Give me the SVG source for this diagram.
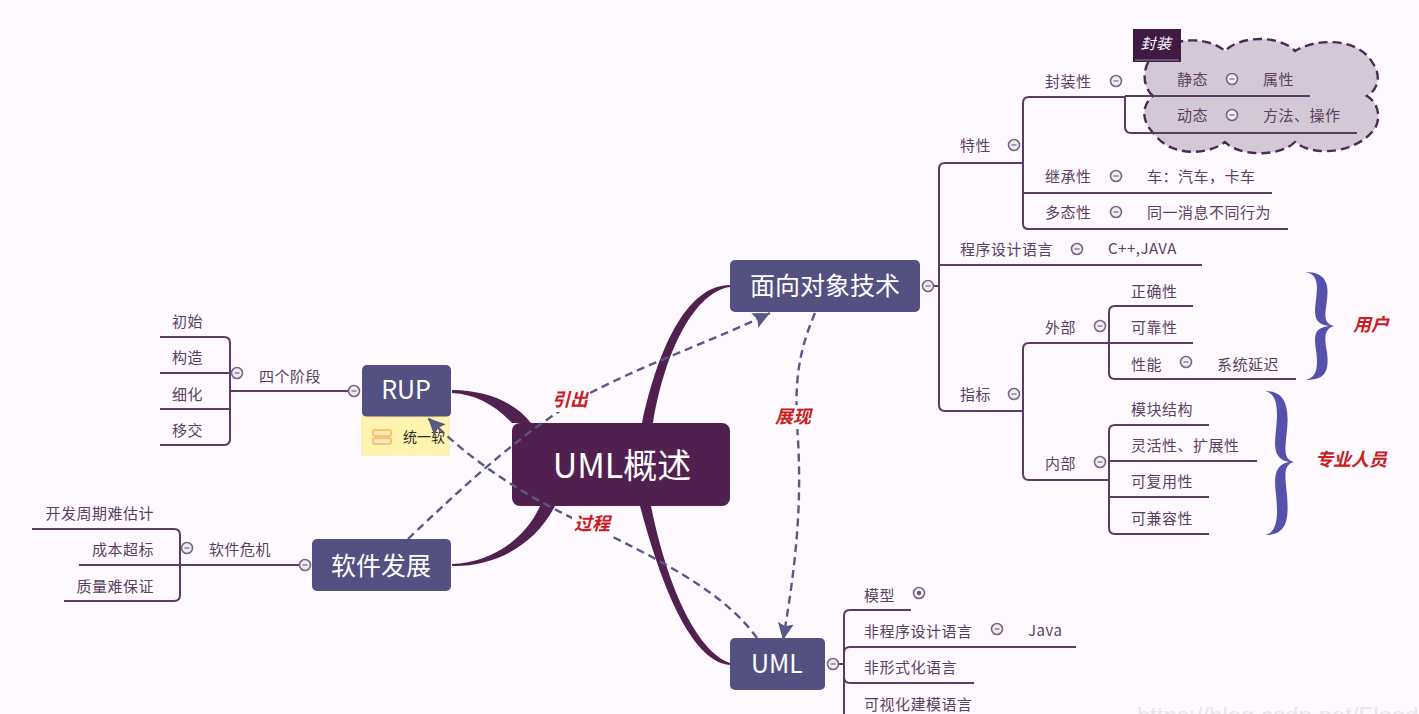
<svg xmlns="http://www.w3.org/2000/svg" width="1419" height="714" viewBox="0 0 1419 714">
<style>
text{font-family:"Noto Sans CJK SC","Noto Sans",sans-serif;fill:#5a3f60}
.t{font-size:15px;letter-spacing:.5px}
.e{text-anchor:end}
.m{fill:#fff;font-size:25px;text-anchor:middle}
.r{fill:#c8201e;font-size:18px;font-weight:700;font-style:italic;text-anchor:middle}
.l{fill:none;stroke:#5c3a64;stroke-width:2;stroke-linejoin:round}
.c{fill:#f0ecf4;stroke:#7a6480;stroke-width:1.6}
.d{fill:none;stroke:#7a6480;stroke-width:1.2}
.b{fill:#52204f}
.n{fill:#545082}
.a{fill:none;stroke:#585a85;stroke-width:2.4;stroke-dasharray:8 5}
.bg{fill:#fdf9ff}
</style>
<defs>
<marker id="arr" markerUnits="userSpaceOnUse" markerWidth="20" markerHeight="18" refX="17" refY="8" orient="auto"><path d="M0,0L17,8L0,16L3,8Z" fill="#585a85"/></marker>
<g id="col"><circle r="5.5" class="c"/><path d="M-2.5,0H2.5" class="d"/></g>
</defs>
<rect width="1419" height="714" class="bg"/>
<g id="connectors">
<path class="b" d="M452,390C485,390 515,402 531,423L512,423C495,405 475,394 452,393Z"/>
<path class="b" d="M452,564C490,563 525,540 540,506L555,506C535,545 495,567 452,566Z"/>
<path class="b" d="M730,285C690,285 660,340 642,423L653,423C665,350 695,292 730,287Z"/>
<path class="b" d="M730,665C695,662 665,600 640,506L651,506C668,590 698,652 730,663Z"/>
<path class="l" d="M932,286H939"/>
<path class="l" d="M1023,163H945Q939,163 939,169V405Q939,411 945,411H1023"/>
<path class="l" d="M939,265H1202"/>
<path class="l" d="M1125,97H1029Q1023,97 1023,103V224Q1023,229 1029,229H1288M1023,193H1272"/>
<path class="l" d="M1109,343H1029Q1023,343 1023,349V474Q1023,480 1029,480H1109"/>
<path class="l" d="M1193,306H1115Q1109,306 1109,312V373Q1109,379 1115,379H1296M1109,343H1193"/>
<path class="l" d="M1209,425H1115Q1109,425 1109,431V528Q1109,534 1115,534H1209M1109,461H1257M1109,497H1209"/>
<path class="l" d="M160,337H224Q230,337 230,343V439Q230,445 224,445H160M160,373H230M160,409H230M230,391H350"/>
<path class="l" d="M32,529H174Q180,529 180,535V595Q180,601 174,601H64M79,565H300"/>
<path class="l" d="M829,664H844M911,610H850Q844,610 844,616V714M1076,647H850Q844,647 844,653V677Q844,683 850,683H974"/>
</g>
<g id="cloud"><path d="M1153,96C1140,85 1142,60 1160,50C1180,36 1210,38 1225,51C1240,35 1280,35 1295,51C1320,36 1360,40 1372,62C1382,75 1378,90 1367,96C1382,105 1380,125 1372,132C1355,152 1315,158 1295,142C1280,157 1240,157 1225,142C1205,157 1170,155 1155,135C1140,120 1142,105 1153,96Z" fill="#d3c8d5" stroke="#4b2a55" stroke-width="2.4" stroke-dasharray="9 5"/>
<path class="l" d="M1125,96H1310M1125,97V127Q1125,133 1131,133H1357"/></g>
<g id="n-cloud-title"><rect x="1133" y="29" width="48" height="33" fill="#3f1a42"/><path d="M1135,60H1179" stroke="#9a84a0"/><text x="1156" y="49" class="t" style="fill:#fff;font-style:italic;text-anchor:middle">封装</text></g>
<g id="n-root"><rect x="512" y="423" width="218" height="83" rx="8" class="b"/><text x="622" y="478" class="m" style="font-size:34px">UML概述</text></g>
<g id="n-oop"><rect x="730" y="260" width="190" height="52" rx="5" class="n"/><text x="825" y="295" class="m">面向对象技术</text></g>
<g id="n-rup"><rect x="362" y="365" width="89" height="52" rx="5" class="n"/><text x="406" y="399" class="m">RUP</text></g>
<g id="n-rup-note"><rect x="362" y="417" width="87" height="38" fill="#fff3b0" stroke="#fbe8a0"/><rect x="373" y="430" width="18" height="6" rx="2" fill="#fde3c0" stroke="#f6c768" stroke-width="2"/><rect x="373" y="438" width="18" height="6" rx="2" fill="#fde3c0" stroke="#f6c768" stroke-width="2"/><text x="403" y="442" style="font-size:14px;fill:#2c2c2c">统一软</text></g>
<g id="n-soft"><rect x="312" y="539" width="139" height="52" rx="5" class="n"/><text x="381" y="575" class="m">软件发展</text></g>
<g id="n-uml"><rect x="730" y="638" width="95" height="52" rx="5" class="n"/><text x="777" y="673" class="m">UML</text></g>
<g id="relations">
<path class="a" d="M408,539C470,480 530,425 590,393C650,362 715,340 770,313" marker-end="url(#arr)"/>
<path class="a" d="M757,638C730,600 680,570 613,537C540,505 480,470 428,418" marker-end="url(#arr)"/>
<path class="a" d="M815,313C795,360 795,390 798,440C802,510 795,570 783,640" marker-end="url(#arr)"/>
</g>
<g id="n-oop-children">
<use href="#col" x="928" y="286"/>
<text x="960" y="151" class="t">特性</text><use href="#col" x="1014" y="145"/>
<text x="1045" y="87" class="t">封装性</text><use href="#col" x="1116" y="81"/>
<text x="1177" y="85" class="t">静态</text><use href="#col" x="1232" y="79"/><text x="1263" y="85" class="t">属性</text>
<text x="1177" y="121" class="t">动态</text><use href="#col" x="1232" y="115"/><text x="1263" y="121" class="t">方法、操作</text>
<text x="1045" y="182" class="t">继承性</text><use href="#col" x="1116" y="176"/><text x="1147" y="182" class="t">车：汽车，卡车</text>
<text x="1045" y="218" class="t">多态性</text><use href="#col" x="1116" y="212"/><text x="1147" y="218" class="t">同一消息不同行为</text>
<text x="960" y="255" class="t">程序设计语言</text><use href="#col" x="1077" y="249"/><text x="1108" y="254" class="t">C++,JAVA</text>
<text x="960" y="400" class="t">指标</text><use href="#col" x="1014" y="394"/>
<text x="1045" y="333" class="t">外部</text><use href="#col" x="1100" y="326"/>
<text x="1131" y="297" class="t">正确性</text><text x="1131" y="333" class="t">可靠性</text>
<text x="1131" y="370" class="t">性能</text><use href="#col" x="1186" y="362"/><text x="1217" y="370" class="t">系统延迟</text>
<text x="1045" y="469" class="t">内部</text><use href="#col" x="1100" y="462"/>
<text x="1131" y="415" class="t">模块结构</text><text x="1131" y="451" class="t">灵活性、扩展性</text><text x="1131" y="487" class="t">可复用性</text><text x="1131" y="524" class="t">可兼容性</text>
</g>
<g id="n-braces" fill="#5652ac">
<path d="M1305,272C1327,272 1329,285 1327,300C1325,315 1323,323 1334,326C1323,329 1325,340 1327,352C1329,370 1327,380 1305,380C1318,378 1318,365 1316,350C1314,335 1314,328 1329,326C1314,324 1314,315 1316,300C1318,285 1318,274 1305,272Z"/>
<path d="M1265,391C1287,391 1289,410 1287,430C1285,450 1283,459 1294,462C1283,465 1285,475 1287,495C1289,520 1287,535 1265,535C1278,532 1278,515 1276,495C1274,478 1274,465 1289,462C1274,459 1274,448 1276,430C1278,410 1278,394 1265,391Z"/>
</g>
<text x="1371" y="331" class="r">用户</text>
<text x="1351" y="466" class="r">专业人员</text>
<g id="n-rup-children">
<use href="#col" x="354" y="391"/><use href="#col" x="237" y="373"/>
<text x="259" y="382" class="t">四个阶段</text>
<text x="172" y="327" class="t">初始</text><text x="172" y="363" class="t">构造</text><text x="172" y="400" class="t">细化</text><text x="172" y="436" class="t">移交</text>
</g>
<g id="n-soft-children">
<use href="#col" x="305" y="565"/><use href="#col" x="187" y="548"/>
<text x="209" y="555" class="t">软件危机</text>
<text x="154" y="519" class="t e">开发周期难估计</text><text x="154" y="555" class="t e">成本超标</text><text x="154" y="592" class="t e">质量难保证</text>
</g>
<g id="n-uml-children">
<use href="#col" x="833" y="664"/>
<text x="864" y="601" class="t">模型</text><circle cx="919" cy="593" r="5.5" class="c"/><circle cx="919" cy="593" r="2.2" fill="#6d5674"/>
<text x="864" y="637" class="t">非程序设计语言</text><use href="#col" x="997" y="629"/><text x="1028" y="636" class="t">Java</text>
<text x="864" y="673" class="t">非形式化语言</text><text x="864" y="710" class="t">可视化建模语言</text>
</g>
<g id="labels">
<rect x="550" y="388" width="40" height="24" class="bg"/><text x="570" y="406" class="r">引出</text>
<rect x="572" y="513" width="40" height="24" class="bg"/><text x="592" y="530" class="r">过程</text>
<rect x="773" y="405" width="40" height="24" class="bg"/><text x="793" y="423" class="r">展现</text>
</g>
<text x="1137" y="724" style="font-size:24px;fill:#e8e4ea;font-family:'Liberation Sans',sans-serif">https://blog.csdn.net/Flood</text>
</svg>
